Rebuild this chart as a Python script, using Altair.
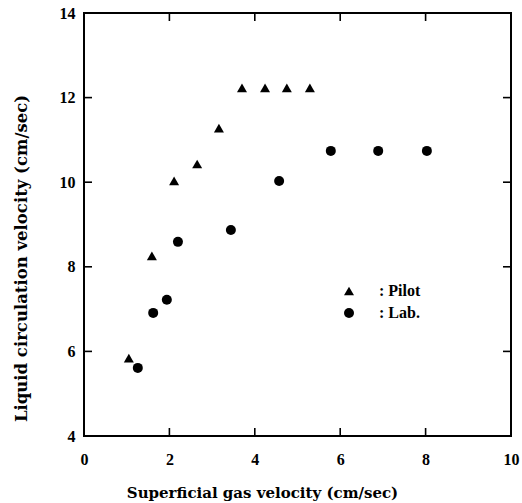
import altair as alt
import pandas as pd

# --- data ---
pilot_x = [1.05, 1.59, 2.11, 2.65, 3.16, 3.70, 4.24, 4.75, 5.29]
pilot_y = [5.84, 8.26, 10.03, 10.43, 11.28, 12.23, 12.23, 12.23, 12.23]
lab_x = [1.26, 1.62, 1.94, 2.20, 3.44, 4.57, 5.78, 6.89, 8.03]
lab_y = [5.61, 6.91, 7.22, 8.59, 8.87, 10.03, 10.74, 10.74, 10.74]
series_names = ["Pilot", "Lab."]
x_labels = [0, 2, 4, 6, 8, 10]
y_labels = [4, 6, 8, 10, 12, 14]
x_inner_ticks = [2, 4, 6, 8]
y_inner_ticks = [6, 8, 10, 12]

df = pd.DataFrame(
    {
        "x": pilot_x + lab_x,
        "y": pilot_y + lab_y,
        "series": [series_names[0]] * len(pilot_x) + [series_names[1]] * len(lab_x),
    }
)
xt = pd.DataFrame({"x": x_inner_ticks})
yt = pd.DataFrame({"y": y_inner_ticks})

W, H = 427, 423
FONT = "Liberation Serif"
TFONT = "DejaVu Serif"

xscale = alt.Scale(domain=[0, 10], nice=False, zero=False)
yscale = alt.Scale(domain=[4, 14], nice=False, zero=False)

xaxis = alt.Axis(
    values=x_labels, domain=False, ticks=False, tickSize=0, grid=False,
    labelFont=FONT, labelFontWeight="bold", labelFontSize=16, labelColor="black",
    labelPadding=15, labelFlush=False,
    title="Superficial gas velocity (cm/sec)", titleFont=TFONT, titleFontWeight="bold",
    titleFontSize=15, titleColor="black", titleX=178, titleY=56,
    titleBaseline="middle", titleAlign="center", titleAnchor="start",
)
yaxis = alt.Axis(
    values=y_labels, domain=False, ticks=False, tickSize=0, grid=False,
    labelFont=FONT, labelFontWeight="bold", labelFontSize=16, labelColor="black",
    labelPadding=9, labelFlush=False,
    title="Liquid circulation velocity (cm/sec)", titleFont=TFONT, titleFontWeight="bold",
    titleFontSize=16.5, titleColor="black", titleX=-63, titleY=245, titleAngle=-90,
    titleBaseline="middle", titleAlign="center", titleAnchor="start",
)

points = alt.Chart(df).mark_point(filled=True, opacity=1, size=100).encode(
    x=alt.X("x:Q", scale=xscale, axis=xaxis),
    y=alt.Y("y:Q", scale=yscale, axis=yaxis),
    shape=alt.Shape(
        "series:N",
        scale=alt.Scale(domain=series_names, range=["triangle-up", "circle"]),
        legend=alt.Legend(
            title=None, orient="none", legendX=257, legendY=270, padding=0,
            symbolSize=100, symbolFillColor="black", symbolStrokeColor="black",
            symbolStrokeWidth=0, labelFont=FONT, labelFontWeight="bold",
            labelFontSize=16, labelColor="black", labelOffset=22, rowPadding=6,
            labelExpr="': ' + datum.label",
        ),
    ),
    color=alt.value("black"),
)

tick_len = 8
bottom_ticks = alt.Chart(xt).mark_rule(color="black", strokeWidth=1.6).encode(
    x=alt.X("x:Q", scale=xscale), y=alt.value(H), y2=alt.value(H - tick_len)
)
top_ticks = alt.Chart(xt).mark_rule(color="black", strokeWidth=1.6).encode(
    x=alt.X("x:Q", scale=xscale), y=alt.value(0), y2=alt.value(tick_len)
)
left_ticks = alt.Chart(yt).mark_rule(color="black", strokeWidth=1.6).encode(
    y=alt.Y("y:Q", scale=yscale), x=alt.value(0), x2=alt.value(tick_len)
)
right_ticks = alt.Chart(yt).mark_rule(color="black", strokeWidth=1.6).encode(
    y=alt.Y("y:Q", scale=yscale), x=alt.value(W), x2=alt.value(W - tick_len)
)

chart = (
    alt.layer(points, bottom_ticks, top_ticks, left_ticks, right_ticks)
    .properties(
        width=W, height=H,
        autosize=alt.AutoSizeParams(type="none"),
        padding={"left": 84, "top": 13, "right": 11, "bottom": 67},
        background="white",
    )
    .configure_view(stroke="black", strokeWidth=2)
)

chart.save("out.html", embed_options={"renderer": "svg", "actions": False})
